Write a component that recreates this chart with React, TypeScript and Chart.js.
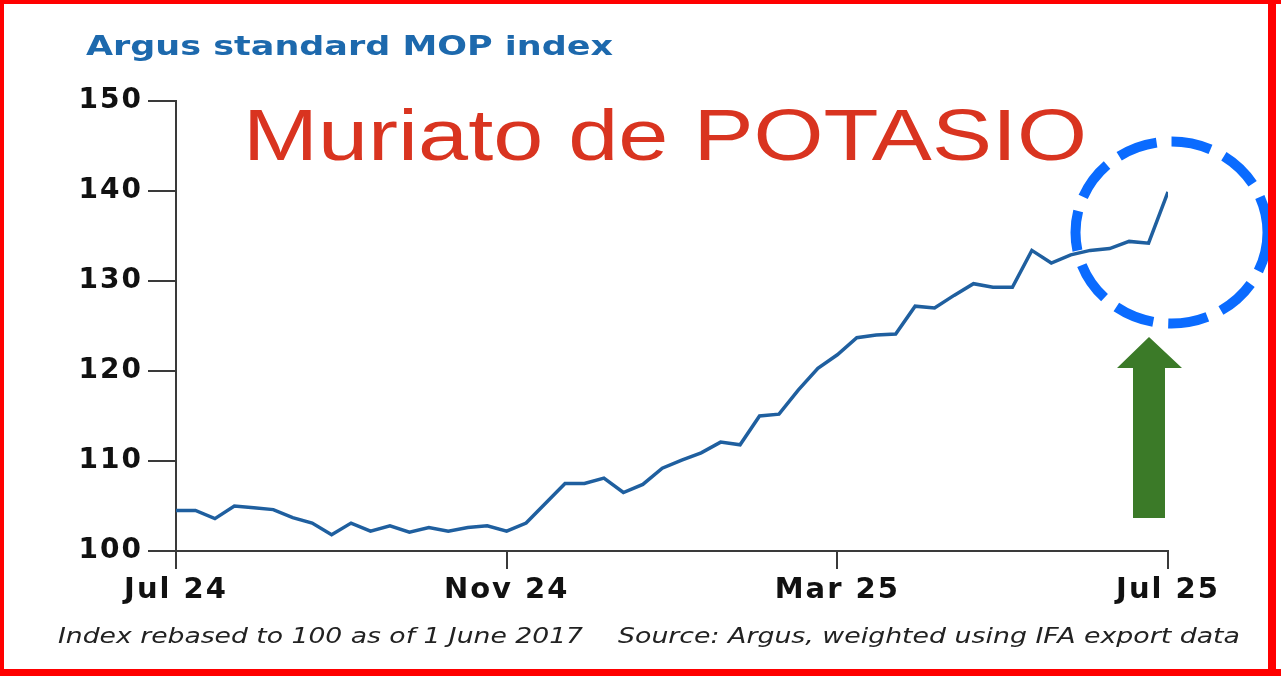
import React, { useEffect, useRef } from 'react';
import { Chart, registerables } from 'chart.js';

Chart.register(...registerables);

// Weekly Argus standard MOP index, Jul 2024 - Jul 2025
const mopIndex = [
  104.5, 104.5, 103.6, 105.0, 104.8, 104.6, 103.7, 103.1, 101.8, 103.1,
  102.2, 102.8, 102.1, 102.6, 102.2, 102.6, 102.8, 102.2, 103.1, 105.3,
  107.5, 107.5, 108.1, 106.5, 107.4, 109.2, 110.1, 110.9, 112.1, 111.8,
  115.0, 115.2, 117.9, 120.3, 121.8, 123.7, 124.0, 124.1, 127.2, 127.0,
  128.4, 129.7, 129.3, 129.3, 133.4, 132.0, 132.9, 133.4, 133.6, 134.4,
  134.2, 139.9,
];
const xTickWeeks = [0, 17, 34, 51];
const xTickLabels = ['Jul 24', 'Nov 24', 'Mar 25', 'Jul 25'];
const yMin = 100;
const yMax = 150;
const yStep = 10;

const titleText = 'Argus standard MOP index';
const overlayText = 'Muriato de POTASIO';
const noteLeft = 'Index rebased to 100 as of 1 June 2017';
const noteRight = 'Source: Argus, weighted using IFA export data';

const W = 1281;
const H = 676;

function fitText(ctx: CanvasRenderingContext2D, text: string, x: number, y: number, width: number, font: string, color: string) {
  ctx.save();
  ctx.font = font;
  ctx.fillStyle = color;
  ctx.textAlign = 'left';
  ctx.textBaseline = 'alphabetic';
  const w = ctx.measureText(text).width;
  ctx.translate(x, y);
  ctx.scale(width / w, 1);
  ctx.fillText(text, 0, 0);
  ctx.restore();
}

const decorPlugin = {
  id: 'decor',
  beforeDraw(chart: any) {
    const ctx = chart.ctx as CanvasRenderingContext2D;
    ctx.save();
    ctx.fillStyle = '#ffffff';
    ctx.fillRect(0, 0, chart.width, chart.height);
    ctx.restore();
    (ctx as any).letterSpacing = '2px';
  },
  afterDraw(chart: any) {
    const ctx = chart.ctx as CanvasRenderingContext2D;
    ctx.save();
    (ctx as any).letterSpacing = '0px';
    fitText(ctx, titleText, 86, 55, 527, 'bold 26px "DejaVu Sans"', '#1d69ad');
    fitText(ctx, overlayText, 243, 160, 844, '73px "Liberation Sans"', '#d93420');
    fitText(ctx, noteLeft, 58, 643, 525, 'italic 21px "DejaVu Sans"', '#222222');
    fitText(ctx, noteRight, 618, 643, 622, 'italic 21px "DejaVu Sans"', '#222222');

    // dashed highlight circle
    ctx.save();
    ctx.strokeStyle = '#0a6bff';
    ctx.lineWidth = 10;
    ctx.setLineDash([40, 15]);
    ctx.beginPath();
    ctx.ellipse(1171.5, 232.5, 96, 91, 0, 0, Math.PI * 2);
    ctx.stroke();
    ctx.restore();

    // green arrow
    ctx.save();
    ctx.fillStyle = '#3b7a28';
    ctx.beginPath();
    ctx.moveTo(1149, 337);
    ctx.lineTo(1182, 368);
    ctx.lineTo(1165, 368);
    ctx.lineTo(1165, 518);
    ctx.lineTo(1133, 518);
    ctx.lineTo(1133, 368);
    ctx.lineTo(1117, 368);
    ctx.closePath();
    ctx.fill();
    ctx.restore();

    // red frame
    ctx.fillStyle = '#ff0000';
    ctx.fillRect(0, 0, W, 4);
    ctx.fillRect(0, 0, 4, H);
    ctx.fillRect(0, 669, W, 7);
    ctx.fillRect(1268, 0, 8, H);
    ctx.restore();
  },
};

export default function App() {
  const ref = useRef<HTMLCanvasElement | null>(null);

  useEffect(() => {
    if (!ref.current) return;
    const axisColor = '#3a3a3a';
    const chart = new Chart(ref.current, {
      type: 'line',
      data: {
        datasets: [
          {
            label: 'Argus standard MOP index',
            data: mopIndex.map((v, i) => ({ x: i, y: v })),
            borderColor: '#1f5f9f',
            borderWidth: 3.5,
            pointRadius: 0,
            tension: 0,
            fill: false,
          },
        ],
      },
      options: {
        animation: false,
        responsive: false,
        maintainAspectRatio: false,
        layout: { padding: { left: 0, top: 101, right: 113, bottom: 0 } },
        plugins: {
          legend: { display: false },
          tooltip: { enabled: false },
          title: { display: false },
        },
        scales: {
          x: {
            type: 'linear',
            min: 0,
            max: mopIndex.length - 1,
            afterBuildTicks: (scale: any) => {
              scale.ticks = xTickWeeks.map((v) => ({ value: v }));
            },
            afterFit: (scale: any) => {
              scale.height = 125;
            },
            grid: {
              display: true,
              drawOnChartArea: false,
              drawTicks: true,
              tickLength: 18,
              color: axisColor,
              lineWidth: 2,
            },
            border: { display: true, color: axisColor, width: 2 },
            ticks: {
              autoSkip: false,
              maxRotation: 0,
              padding: 4,
              color: '#111111',
              font: { family: '"DejaVu Sans"', size: 29, weight: 'bold' },
              callback: (v: any) => {
                const k = xTickWeeks.indexOf(Number(v));
                return k >= 0 ? xTickLabels[k] : '';
              },
            },
          },
          y: {
            type: 'linear',
            min: yMin,
            max: yMax,
            afterFit: (scale: any) => {
              scale.width = 176;
            },
            grid: {
              display: true,
              drawOnChartArea: false,
              drawTicks: true,
              tickLength: 28,
              color: axisColor,
              lineWidth: 2,
            },
            border: { display: true, color: axisColor, width: 2 },
            ticks: {
              stepSize: yStep,
              padding: 5,
              color: '#111111',
              font: { family: '"DejaVu Sans"', size: 28, weight: 'bold' },
            },
          },
        },
      } as any,
      plugins: [decorPlugin],
    });
    return () => chart.destroy();
  }, []);

  return (
    <div style={{ position: 'absolute', left: 0, top: 0, width: W, height: H, background: '#fff' }}>
      <canvas ref={ref} width={W} height={H} style={{ display: 'block', width: W, height: H }} />
    </div>
  );
}
